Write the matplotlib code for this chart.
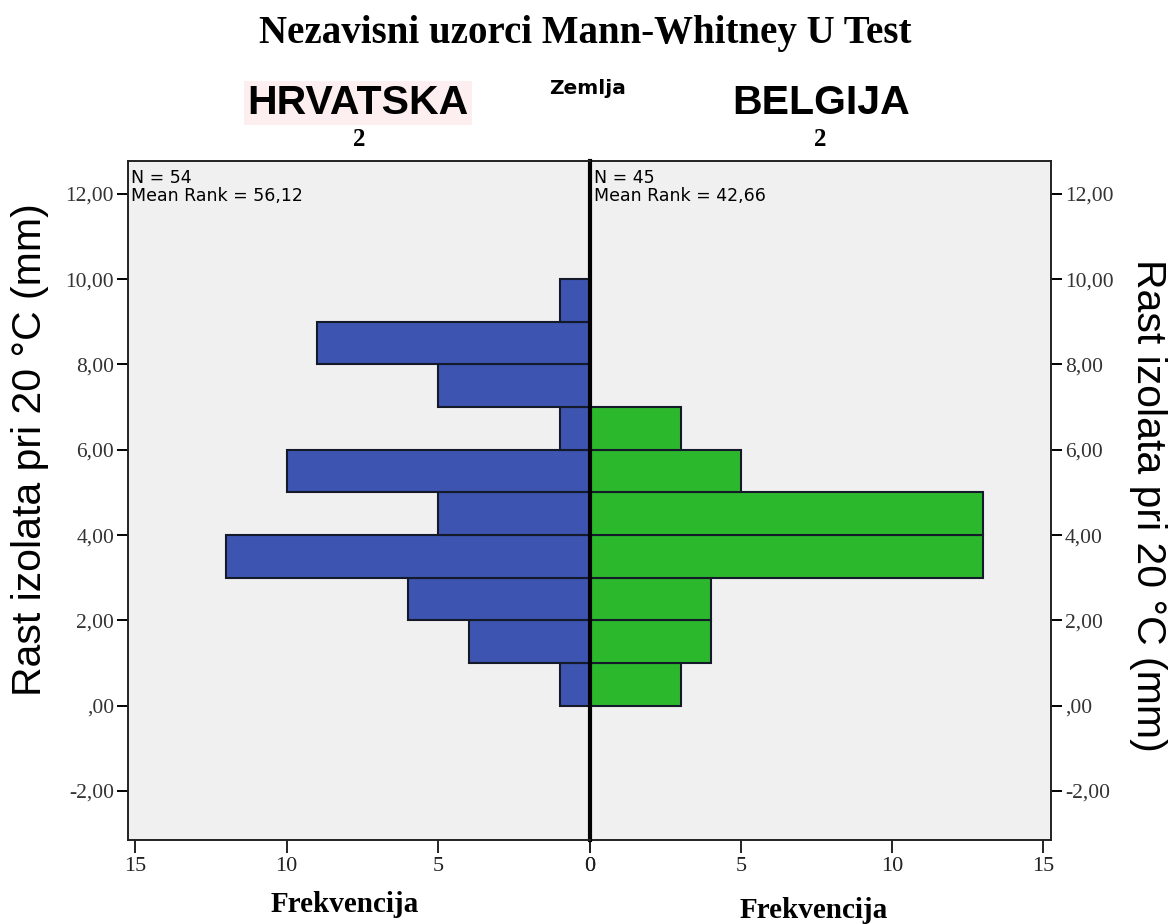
import matplotlib
matplotlib.use("Agg")
import matplotlib.pyplot as plt
import numpy as np

# Data
bin_lower = [0, 1, 2, 3, 4, 5, 6, 7, 8, 9]
hrvatska_counts = [1, 4, 6, 12, 5, 10, 1, 5, 9, 1]
belgija_counts = [3, 4, 4, 13, 13, 5, 3, 0, 0, 0]
bin_width = 1.0
y_ticks = [-2, 0, 2, 4, 6, 8, 10, 12]
y_ticklabels = ["-2,00", ",00", "2,00", "4,00", "6,00", "8,00", "10,00", "12,00"]
x_ticks = [0, 5, 10, 15]
left_stats = ["N = 54", "Mean Rank = 56,12"]
right_stats = ["N = 45", "Mean Rank = 42,66"]

BLUE = "#3d55b0"
GREEN = "#2cb82c"
BG = "#f0f0f0"
EDGE = "#151a2a"

W, H = 1172, 924
fig = plt.figure(figsize=(W / 100, H / 100), dpi=100)

def fx(px):
    return px / W

def fy(py):
    return 1 - py / H

ax_bottom = fy(840)
ax_h = fy(161) - fy(840)
axL = fig.add_axes([fx(128), ax_bottom, fx(590) - fx(128), ax_h])
axR = fig.add_axes([fx(590), ax_bottom, fx(1051) - fx(590), ax_h])

serif = "Liberation Serif"
sans = "Liberation Sans"

for ax in (axL, axR):
    ax.set_facecolor(BG)
    ax.set_ylim(-3.15, 12.77)
    for s in ax.spines.values():
        s.set_linewidth(1.4)
        s.set_color("#222222")

axL.barh(bin_lower, hrvatska_counts, height=bin_width, align="edge",
         color=BLUE, edgecolor=EDGE, linewidth=1.5)
axL.set_xlim(15.23, 0)
axR.barh(bin_lower, belgija_counts, height=bin_width, align="edge",
         color=GREEN, edgecolor=EDGE, linewidth=1.5)
axR.set_xlim(0, 15.26)

axL.spines["right"].set_linewidth(3)
axL.spines["right"].set_color("black")
axR.spines["left"].set_visible(False)
axL.set_zorder(3)

for ax in (axL, axR):
    ax.set_xticks(x_ticks)
    ax.set_xticklabels([str(v) for v in x_ticks], fontfamily=serif, fontsize=16, color="#222222")
    ax.tick_params(axis="x", direction="out", length=9, width=1.4, pad=3, colors="#222222")
    ax.set_yticks(y_ticks)

axL.set_yticklabels(y_ticklabels, fontfamily=serif, fontsize=15.5, color="#333333")
axL.tick_params(axis="y", direction="out", length=8, width=1.4, left=True, right=False, pad=2)
axR.yaxis.tick_right()
axR.set_yticklabels(y_ticklabels, fontfamily=serif, fontsize=15.5, color="#333333")
axR.tick_params(axis="y", direction="out", length=8, width=1.4, left=False, right=True, pad=2)

# stats text
fig.text(fx(131), fy(169), "\n".join(left_stats), ha="left", va="top",
         fontfamily="DejaVu Sans", fontsize=12.5, linespacing=1.0)
fig.text(fx(594), fy(169), "\n".join(right_stats), ha="left", va="top",
         fontfamily="DejaVu Sans", fontsize=12.5, linespacing=1.0)

# Titles
fig.text(fx(585), fy(33), "Nezavisni uzorci Mann-Whitney U Test", ha="center", va="center",
         fontfamily=serif, fontweight="bold", fontsize=28)
fig.text(fx(588), fy(88), "Zemlja", ha="center", va="center",
         fontfamily="DejaVu Sans", fontweight="bold", fontsize=14.5)
fig.text(fx(358), fy(103), "HRVATSKA", ha="center", va="center",
         fontfamily=sans, fontweight="bold", fontsize=29.5,
         bbox=dict(boxstyle="square,pad=0.08", facecolor="#fdeff0", edgecolor="none"))
fig.text(fx(821), fy(103), "BELGIJA", ha="center", va="center",
         fontfamily=sans, fontweight="bold", fontsize=29.5)
fig.text(fx(359), fy(140), "2", ha="center", va="center",
         fontfamily=serif, fontweight="bold", fontsize=18)
fig.text(fx(820), fy(140), "2", ha="center", va="center",
         fontfamily=serif, fontweight="bold", fontsize=18)

# Axis labels
fig.text(fx(30), fy(450), "Rast izolata pri 20 °C (mm)", rotation=90, ha="center", va="center",
         fontfamily=sans, fontsize=29.5)
fig.text(fx(1148), fy(505), "Rast izolata pri 20 °C (mm)", rotation=270, ha="center", va="center",
         fontfamily=sans, fontsize=29.5)
fig.text(fx(345), fy(905), "Frekvencija", ha="center", va="center",
         fontfamily=serif, fontweight="bold", fontsize=21)
fig.text(fx(814), fy(910), "Frekvencija", ha="center", va="center",
         fontfamily=serif, fontweight="bold", fontsize=21)

fig.savefig("out.png", dpi=100, facecolor="white")
